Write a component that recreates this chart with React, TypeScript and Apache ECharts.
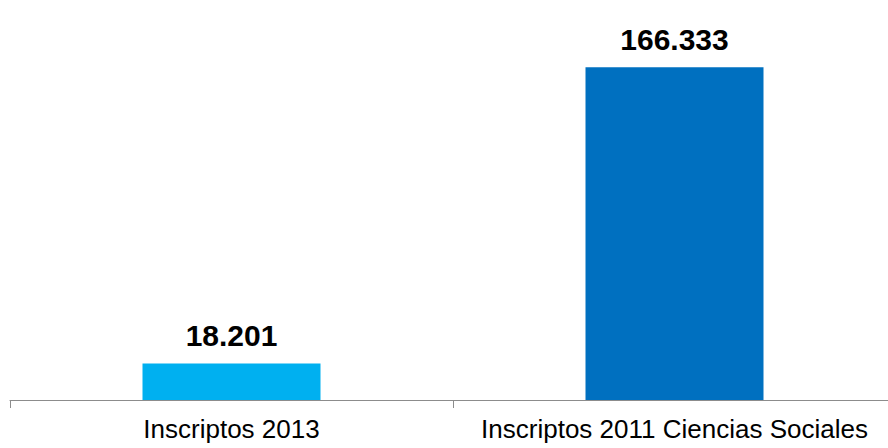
import React, { useEffect, useRef } from "react";
import * as echarts from "echarts";

const categories = ["Inscriptos 2013", "Inscriptos 2011 Ciencias Sociales"];
const values = [18201, 166333];
const barColors = ["#00B0F0", "#0070C0"];

const fmt = (v: number) => v.toLocaleString("de-DE");

export default function App() {
  const ref = useRef<HTMLDivElement>(null);
  useEffect(() => {
    if (!ref.current) return;
    const chart = echarts.init(ref.current, null, { renderer: "svg" });
    chart.setOption({
      animation: false,
      grid: { left: 10, right: 0, top: 40, bottom: 48 },
      xAxis: {
        type: "category",
        data: categories,
        axisLine: { lineStyle: { color: "#8C8C8C", width: 1 } },
        axisTick: { show: true, interval: 0, length: 8, lineStyle: { color: "#8C8C8C", width: 1 } },
        axisLabel: {
          interval: 0,
          color: "#000",
          fontSize: 26,
          fontFamily: "Liberation Sans, Arial, sans-serif",
          margin: 16,
        },
      },
      yAxis: {
        type: "value",
        min: 0,
        max: 180000,
        show: false,
        splitLine: { show: false },
      },
      series: [
        {
          type: "bar",
          barWidth: 178,
          data: values.map((v, i) => ({ value: v, itemStyle: { color: barColors[i] } })),
          label: {
            show: true,
            position: "top",
            distance: 13,
            color: "#000",
            fontWeight: "bold",
            fontSize: 30,
            fontFamily: "Liberation Sans, Arial, sans-serif",
            formatter: (p: any) => fmt(p.value),
          },
        },
      ],
    });
    return () => chart.dispose();
  }, []);
  return (
    <div style={{ position: "absolute", left: 0, top: 0, width: 888, height: 448, overflow: "hidden", background: "#fff" }}>
      <div ref={ref} style={{ width: 896, height: 448 }} />
    </div>
  );
}
